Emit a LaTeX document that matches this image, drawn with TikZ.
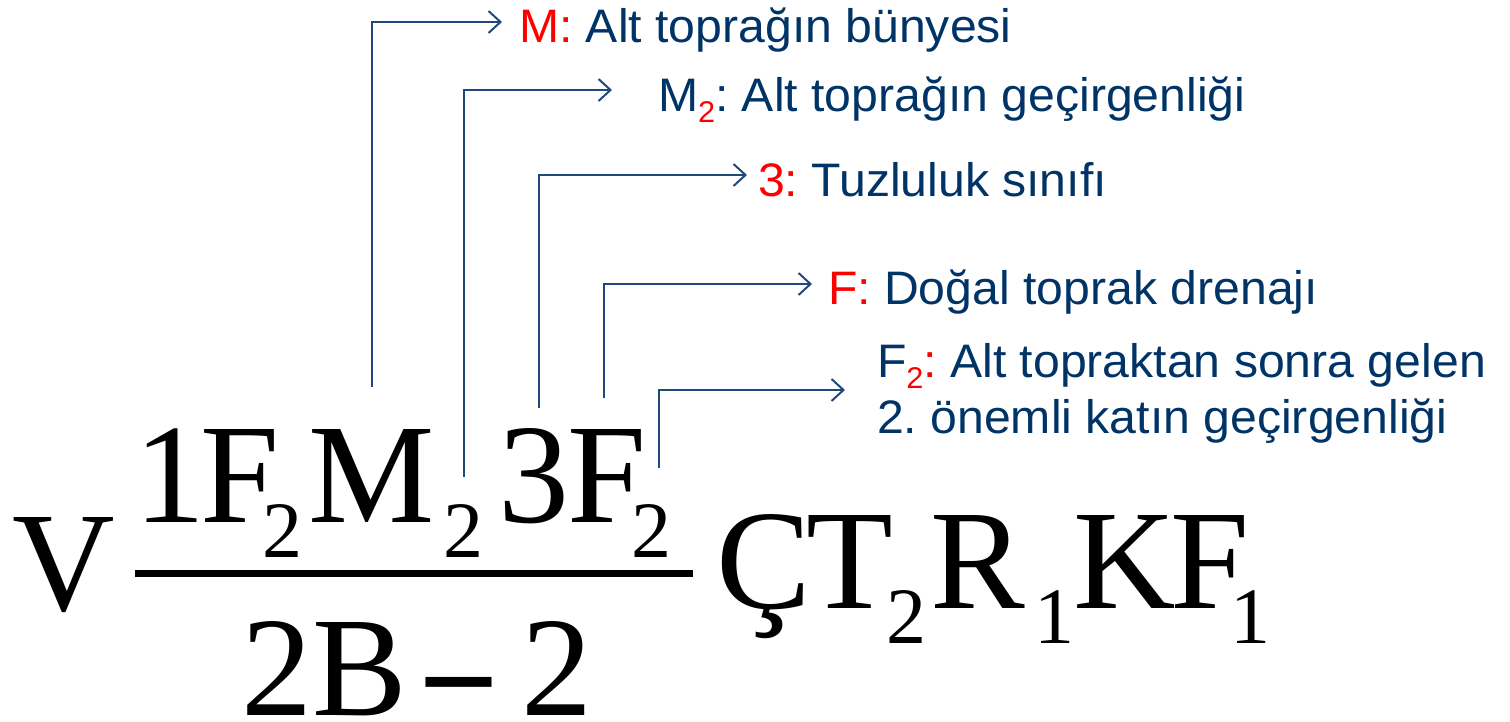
\documentclass[tikz,border=0pt]{standalone}
\usepackage{fontspec}
\setmainfont{Liberation Serif}
\newfontfamily\labfont[FakeStretch=1.025]{Liberation Sans}
\usetikzlibrary{arrows.meta}
\definecolor{navy}{RGB}{0,51,102}
\definecolor{lineblue}{RGB}{31,73,125}
\newcommand\redsub[1]{\raisebox{-5.5pt}{\fontsize{15}{15}\selectfont\color{red}#1}}
\frenchspacing
\begin{document}
\begin{tikzpicture}[x=0.5pt,y=-0.5pt,
  eq/.style={font=\fontsize{71}{84}\selectfont, anchor=base west, inner sep=0pt, outer sep=0pt},
  eqsub/.style={font=\fontsize{40}{48}\selectfont, anchor=base west, inner sep=0pt, outer sep=0pt},
  lbl/.style={font=\labfont\fontsize{23.5}{28}\selectfont, text=navy, anchor=base west, inner sep=0pt, outer sep=0pt, align=left},
  conn/.style={draw=lineblue, line width=1pt, -{Straight Barb[length=6pt,width=11pt,line width=1pt]}},
  barline/.style={line width=3.5pt}]
\useasboundingbox (0,0) rectangle (1510,722);
% formula
\node[eq] (V) at (12,610) {V};
\node[eq] (n1) at (134,522) {1};
\node[eq] (nF) at (200,522) {F};
\node[eqsub] (nF2) at (262,557) {2};
\node[eq] (nM) at (308,522) {M};
\node[eqsub] (nM2) at (443,557) {2};
\node[eq] (n3) at (498,522) {3};
\node[eq] (nFF) at (567,522) {F};
\node[eqsub] (nFF2) at (631,557) {2};
\coordinate (barL) at (135,573);
\coordinate (barR) at (693,573);
\draw[barline] (barL) -- (barR);
\node[eq] (d2) at (241,715) {2};
\node[eq] (dB) at (312,715) {B};
\node[eq] (dm) at (418,715) {\raisebox{-7pt}{\bfseries −}};
\node[eq] (d2b) at (521,715) {2};
\node[eq] (C) at (716,608) {Ç};
\node[eq] (T) at (806,608) {T};
\node[eqsub] (T2) at (886,643) {2};
\node[eq] (R) at (930,608) {R};
\node[eqsub] (R1) at (1034,643) {1};
\node[eq] (K) at (1073,608) {K};
\node[eq] (KF) at (1170,608) {F};
\node[eqsub] (F1) at (1230,643) {1};
% labels
\node[lbl] (L1) at (519,43) {{\color{red}M:} Alt toprağın bünyesi};
\node[lbl] (L2) at (658,112) {M\redsub{2}: Alt toprağın geçirgenliği};
\node[lbl] (L3) at (758,196) {{\color{red}3:} Tuzluluk sınıfı};
\node[lbl] (L4) at (828,304) {{\color{red}F:} Doğal toprak drenajı};
\node[lbl] (L5) at (877,433) {F\redsub{2}{\color{red}:} Alt topraktan sonra gelen\\2. önemli katın geçirgenliği};
% connectors
\coordinate (s1) at (372,387); \coordinate (e1) at (502,22);
\coordinate (s2) at (464,477); \coordinate (e2) at (612,90);
\coordinate (s3) at (539,408); \coordinate (e3) at (747,175);
\coordinate (s4) at (604,398); \coordinate (e4) at (812,284);
\coordinate (s5) at (659,468); \coordinate (e5) at (845,390);
\draw[conn] (s1) |- (e1);
\draw[conn] (s2) |- (e2);
\draw[conn] (s3) |- (e3);
\draw[conn] (s4) |- (e4);
\draw[conn] (s5) |- (e5);
\end{tikzpicture}
\end{document}
